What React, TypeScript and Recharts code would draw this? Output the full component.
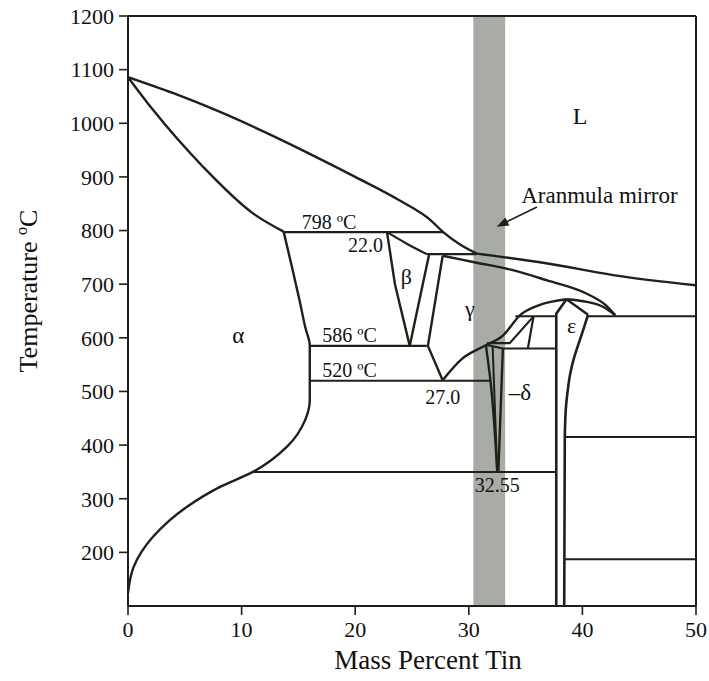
import {
  ComposedChart,
  Line,
  XAxis,
  YAxis,
  ReferenceArea,
  ReferenceLine,
  ReferenceDot,
} from "recharts";

type Pt = [number, number]; // [mass % Sn, temperature °C]

const xTicks = [0, 10, 20, 30, 40, 50];
const yTicks = [200, 300, 400, 500, 600, 700, 800, 900, 1000, 1100, 1200];

// boundaries
const liquidusCu: Pt[] = [[0, 1086], [4, 1056], [8, 1022], [12, 984], [16, 943], [20, 900], [24, 855], [26.6, 820], [27.8, 796], [29.3, 773], [30.7, 757]];
const liquidusSn: Pt[] = [[30.7, 757], [36.8, 739], [42.7, 717], [50, 698]];
const solidusAlpha: Pt[] = [[0, 1086], [2.2, 1025], [6.6, 919], [11, 832], [13.7, 798]];
const alphaSolvus: Pt[] = [[13.7, 798], [14.4, 735], [15.1, 670], [15.6, 620], [16.0, 586], [16.0, 520], [16.0, 484], [15.6, 447], [14.0, 397], [11.0, 350], [8.1, 322], [5.2, 285], [2.2, 229], [0.5, 173], [0, 124]];
const betaLeft: Pt[] = [[22.8, 797], [23.5, 700], [24.8, 585]];
const betaTop: Pt[] = [[22.8, 797], [24.5, 776], [26.3, 756]];
const betaRight: Pt[] = [[26.5, 755], [24.8, 585]];
const gammaLeft: Pt[] = [[27.7, 753], [26.4, 585], [27.7, 521]];
const gammaSolidus: Pt[] = [[27.7, 753], [30.7, 740], [33.7, 727], [36.9, 707], [40.2, 684], [42.1, 660], [42.9, 642]];
const domeLeft: Pt[] = [[27.7, 521], [29.3, 559], [31.5, 586], [33.0, 604], [34.5, 642], [36.2, 661], [38.6, 672]];
const domeRight: Pt[] = [[38.6, 672], [40.4, 667], [41.8, 658], [42.9, 642]];
const zetaA: Pt[] = [[31.6, 590], [33.6, 590], [35.7, 640]];
const zetaB: Pt[] = [[35.7, 640], [35.2, 580]];
const deltaTop: Pt[] = [[31.5, 587], [33.0, 580]];
const deltaLeft: Pt[] = [[31.5, 587], [31.9, 521], [32.5, 350]];
const deltaMid: Pt[] = [[32.1, 583], [32.5, 350]];
const deltaRight: Pt[] = [[33.0, 580], [32.6, 350]];
const epsLeft: Pt[] = [[38.6, 672], [37.7, 645], [37.7, 100]];
const epsPeak: Pt[] = [[38.6, 672], [40.5, 643]];
const epsRight: Pt[] = [[40.5, 643], [40.3, 630], [40.0, 610], [39.6, 585], [39.2, 558], [38.9, 530], [38.7, 500], [38.55, 470], [38.48, 440], [38.45, 410], [38.4, 100]];

// isotherms
const iso798: Pt[] = [[13.7, 797], [27.8, 797]];
const iso755: Pt[] = [[26.3, 756], [30.7, 756]];
const iso586: Pt[] = [[16.0, 585], [26.3, 585]];
const iso520: Pt[] = [[16.0, 520], [31.9, 520]];
const iso640a: Pt[] = [[34.1, 640], [37.7, 640]];
const iso640b: Pt[] = [[40.5, 640], [50, 640]];
const iso580: Pt[] = [[33.0, 580], [37.7, 580]];
const iso350: Pt[] = [[11.0, 350], [37.7, 350]];
const iso415: Pt[] = [[38.45, 415], [50, 415]];
const iso189: Pt[] = [[38.4, 187], [50, 187]];

const mirrorBand: Pt = [30.4, 33.2];
const arrowLine: Pt[] = [[36.0, 844], [33.2, 815]];
const arrowTip: Pt = [32.45, 807];

const labels: { text: string; at: Pt; size: number }[] = [
  { text: "L", at: [39.8, 1015], size: 24 },
  { text: "α", at: [9.7, 605], size: 23 },
  { text: "β", at: [24.5, 714], size: 22 },
  { text: "γ", at: [30.1, 656], size: 22 },
  { text: "ε", at: [39.05, 624], size: 22 },
  { text: "–δ", at: [34.5, 500], size: 23 },
  { text: "798 ºC", at: [17.7, 816], size: 20 },
  { text: "22.0", at: [20.9, 773], size: 20 },
  { text: "586 ºC", at: [19.5, 605], size: 20 },
  { text: "520 ºC", at: [19.5, 540], size: 20 },
  { text: "27.0", at: [27.7, 490], size: 20 },
  { text: "32.55", at: [32.5, 326], size: 20 },
  { text: "Aranmula mirror", at: [41.5, 866], size: 23 },
];

const INK = "#1b2218";
const FONT = "'Liberation Serif', 'Times New Roman', serif";

const rows = (pts: Pt[]) => pts.map(([x, t]) => ({ x, t }));

const curves: { key: string; pts: Pt[]; type: "linear" | "monotone" | "monotoneY"; w: number }[] = [
  { key: "liqCu", pts: liquidusCu, type: "monotone", w: 2.4 },
  { key: "liqSn", pts: liquidusSn, type: "monotone", w: 2.4 },
  { key: "solA", pts: solidusAlpha, type: "monotone", w: 2.4 },
  { key: "solvA", pts: alphaSolvus, type: "monotoneY", w: 2.4 },
  { key: "bL", pts: betaLeft, type: "linear", w: 2.4 },
  { key: "bT", pts: betaTop, type: "monotone", w: 2.2 },
  { key: "bR", pts: betaRight, type: "linear", w: 2.4 },
  { key: "gL", pts: gammaLeft, type: "linear", w: 2.4 },
  { key: "gS", pts: gammaSolidus, type: "monotone", w: 2.4 },
  { key: "dL", pts: domeLeft, type: "monotone", w: 2.4 },
  { key: "dR", pts: domeRight, type: "monotone", w: 2.4 },
  { key: "zA", pts: zetaA, type: "linear", w: 2.2 },
  { key: "zB", pts: zetaB, type: "linear", w: 2.2 },
  { key: "deT", pts: deltaTop, type: "linear", w: 2.2 },
  { key: "deL", pts: deltaLeft, type: "monotoneY", w: 2.4 },
  { key: "deM", pts: deltaMid, type: "linear", w: 2 },
  { key: "deR", pts: deltaRight, type: "linear", w: 2.4 },
  { key: "eL", pts: epsLeft, type: "linear", w: 2.6 },
  { key: "eP", pts: epsPeak, type: "linear", w: 2.4 },
  { key: "eR", pts: epsRight, type: "monotoneY", w: 2.6 },
  { key: "i798", pts: iso798, type: "linear", w: 2.2 },
  { key: "i755", pts: iso755, type: "linear", w: 2.2 },
  { key: "i586", pts: iso586, type: "linear", w: 2.2 },
  { key: "i520", pts: iso520, type: "linear", w: 2.2 },
  { key: "i640a", pts: iso640a, type: "linear", w: 2 },
  { key: "i640b", pts: iso640b, type: "linear", w: 2 },
  { key: "i580", pts: iso580, type: "linear", w: 2 },
  { key: "i350", pts: iso350, type: "linear", w: 2 },
  { key: "i415", pts: iso415, type: "linear", w: 2 },
  { key: "i189", pts: iso189, type: "linear", w: 2 },
  { key: "arrow", pts: arrowLine, type: "linear", w: 1.6 },
];

const ArrowHead = (p: any) => {
  const { cx, cy } = p;
  if (cx == null || cy == null) return <g />;
  return <polygon points={`${cx},${cy} ${cx + 12.7},${cy - 1.4} ${cx + 8.7},${cy - 9.4}`} fill={INK} />;
};

export default function App() {
  return (
    <div style={{ position: "absolute", left: 0, top: 0, width: 709, height: 681, background: "#fff" }}>
      <ComposedChart width={709} height={681} margin={{ top: 16, right: 13, left: 0, bottom: 0 }}>
        <XAxis
          type="number"
          dataKey="x"
          domain={[0, 50]}
          ticks={xTicks}
          allowDataOverflow
          height={75}
          tickSize={9}
          tickMargin={6}
          stroke={INK}
          axisLine={{ stroke: INK, strokeWidth: 2 }}
          tickLine={{ stroke: INK, strokeWidth: 1.6 }}
          tick={{ fontSize: 22, fill: "#111", fontFamily: FONT }}
        />
        <YAxis
          type="number"
          domain={[100, 1200]}
          ticks={yTicks}
          allowDataOverflow
          width={128}
          tickSize={9}
          tickMargin={5}
          stroke={INK}
          axisLine={{ stroke: INK, strokeWidth: 2 }}
          tickLine={{ stroke: INK, strokeWidth: 1.6 }}
          tick={{ fontSize: 22, fill: "#111", fontFamily: FONT }}
        />
        <ReferenceArea
          x1={mirrorBand[0]}
          x2={mirrorBand[1]}
          y1={100}
          y2={1200}
          fill="#a8aba6"
          fillOpacity={1}
          stroke="none"
        />
        <ReferenceLine y={1200} stroke={INK} strokeWidth={2} />
        <ReferenceLine x={50} stroke={INK} strokeWidth={2} />
        {curves.map((c) => (
          <Line
            key={c.key}
            data={rows(c.pts)}
            dataKey="t"
            type={c.type}
            stroke={INK}
            strokeWidth={c.w}
            dot={false}
            activeDot={false}
            isAnimationActive={false}
          />
        ))}
        <ReferenceDot x={arrowTip[0]} y={arrowTip[1]} r={0} shape={ArrowHead} />
        {labels.map((l) => (
          <ReferenceDot
            key={l.text}
            x={l.at[0]}
            y={l.at[1]}
            r={0}
            fill="none"
            stroke="none"
            label={{ value: l.text, position: "center", fontSize: l.size, fill: "#111", fontFamily: FONT }}
          />
        ))}
      </ComposedChart>
      <svg width={709} height={681} style={{ position: "absolute", left: 0, top: 0, pointerEvents: "none" }}>
        <text
          x={28}
          y={291}
          transform="rotate(-90 28 291)"
          textAnchor="middle"
          dominantBaseline="central"
          fontSize={26}
          fontFamily={FONT}
          fill="#111"
        >
          Temperature  ºC
        </text>
        <text x={428} y={660} textAnchor="middle" dominantBaseline="central" fontSize={27} fontFamily={FONT} fill="#111">
          Mass Percent Tin
        </text>
      </svg>
    </div>
  );
}
